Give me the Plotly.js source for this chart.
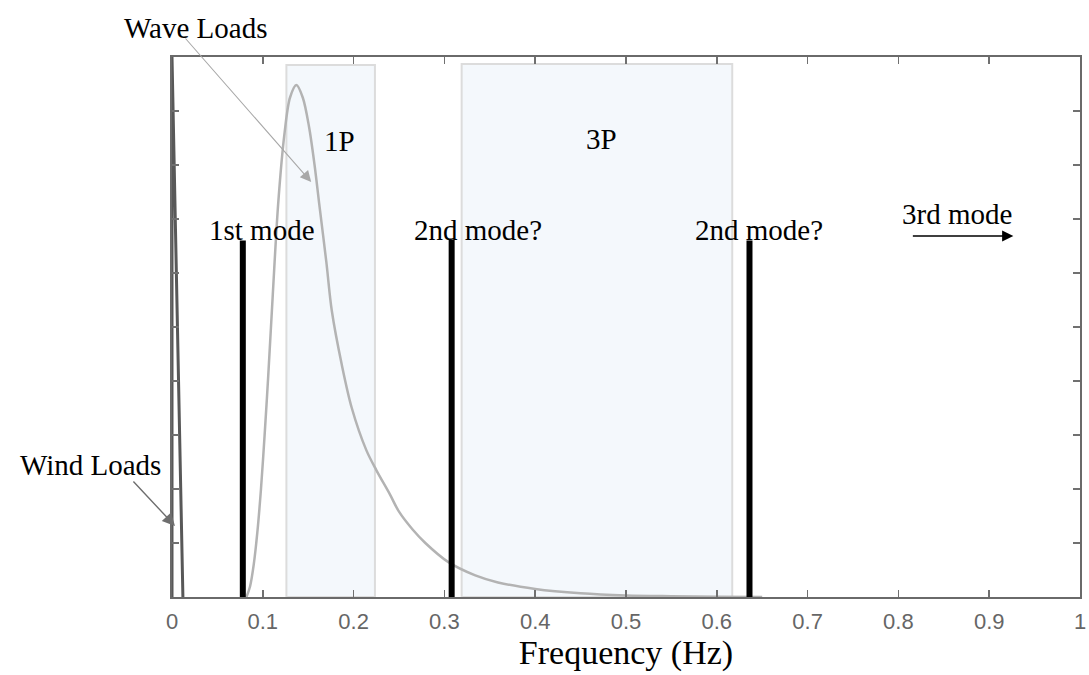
<!DOCTYPE html>
<html>
<head>
<meta charset="utf-8">
<script src="https://cdn.plot.ly/plotly-3.0.1.min.js"></script>
<style>html,body{margin:0;padding:0;background:#fff;}#chart{width:1089px;height:675px;}</style>
</head>
<body>
<div id="chart"></div>
<script>
// Wave load spectrum
var waveFreq = [0.082, 0.086, 0.090, 0.094, 0.098, 0.102, 0.106, 0.111, 0.117, 0.124, 0.130, 0.137, 0.144, 0.151, 0.157, 0.162, 0.170, 0.176, 0.187, 0.198, 0.214, 0.225, 0.240, 0.250, 0.265, 0.279, 0.304, 0.334, 0.359, 0.400, 0.450, 0.500, 0.550, 0.600, 0.650];
var waveAmp  = [0.000, 0.020, 0.060, 0.120, 0.200, 0.300, 0.410, 0.560, 0.730, 0.860, 0.925, 0.948, 0.925, 0.870, 0.800, 0.730, 0.620, 0.530, 0.430, 0.350, 0.272, 0.235, 0.190, 0.158, 0.125, 0.100, 0.065, 0.040, 0.027, 0.015, 0.007, 0.003, 0.0015, 0.0005, 0.000];

// Wind load spike
var windFreq = [0.000, 0.000, 0.012];
var windAmp  = [0.000, 1.000, 0.000];

// Natural modes
var modeFreq   = [0.078, 0.308, 0.636];
var modeHeight = [0.660, 0.662, 0.660];
var modeLabels = ['1st mode', '2nd mode?', '2nd mode?'];

// Excitation bands
var bandNames = ['1P', '3P'];
var bandStart = [0.126, 0.319];
var bandEnd   = [0.2235, 0.617];
var bandTop   = [0.985, 0.987];

var xTickVals = [0, 0.1, 0.2, 0.3, 0.4, 0.5, 0.6, 0.7, 0.8, 0.9, 1];
var xTickText = ['0', '0.1', '0.2', '0.3', '0.4', '0.5', '0.6', '0.7', '0.8', '0.9', '1'];

var traces = [];
traces.push({x: waveFreq, y: waveAmp, mode: 'lines', line: {color: '#b3b3b3', width: 2.5, shape: 'spline', smoothing: 0.9}, hoverinfo: 'skip', showlegend: false});
traces.push({x: windFreq, y: windAmp, mode: 'lines', line: {color: '#585858', width: 3}, hoverinfo: 'skip', showlegend: false});
modeFreq.forEach(function (f, i) {
  traces.push({x: [f, f], y: [0, modeHeight[i]], mode: 'lines', line: {color: '#000', width: 6}, hoverinfo: 'skip', showlegend: false});
});

var shapes = bandStart.map(function (s, i) {
  return {type: 'rect', xref: 'x', yref: 'y', x0: s, x1: bandEnd[i], y0: 0, y1: bandTop[i],
    fillcolor: '#f4f8fc', line: {color: '#dcdcdc', width: 2}, layer: 'below'};
});

var serif = 'Liberation Serif, Times New Roman, serif';
var txt = function (t, x, y, size) {
  return {text: t, xref: 'paper', yref: 'paper', x: x, y: y, xanchor: 'center', yanchor: 'middle',
    showarrow: false, font: {family: serif, size: size || 29, color: '#000'}};
};
var annotations = [
  txt('Wave Loads', 0.026, 1.054),
  txt('Wind Loads', -0.0898, 0.244),
  txt(bandNames[0], 0.184, 0.844),
  txt(bandNames[1], 0.473, 0.848),
  txt(modeLabels[0], 0.0986, 0.680),
  txt(modeLabels[1], 0.337, 0.680),
  txt(modeLabels[2], 0.647, 0.680),
  txt('3rd mode', 0.865, 0.709),
  {text: '', xref: 'paper', yref: 'paper', x: 0.1533, y: 0.7685, ax: -127, ay: -145, showarrow: true,
    arrowhead: 2, arrowsize: 2, arrowwidth: 1.1, arrowcolor: '#a8a8a8', standoff: 0, startstandoff: 0},
  {text: '', xref: 'paper', yref: 'paper', x: 0.0033, y: 0.1315, ax: -43, ay: -46, showarrow: true,
    arrowhead: 2, arrowsize: 1.8, arrowwidth: 1.4, arrowcolor: '#6e6e6e', standoff: 0, startstandoff: 0},
  {text: '', xref: 'paper', yref: 'paper', x: 0.9266, y: 0.6685, ax: -102, ay: 0, showarrow: true,
    arrowhead: 2, arrowsize: 1.4, arrowwidth: 1.6, arrowcolor: '#000', standoff: 0, startstandoff: 0}
];

var layout = {
  width: 1089, height: 675,
  margin: {l: 172, r: 9, t: 57, b: 78},
  paper_bgcolor: '#fff', plot_bgcolor: '#fff',
  showlegend: false,
  xaxis: {
    range: [0, 1], tickmode: 'array', tickvals: xTickVals, ticktext: xTickText,
    ticks: 'inside', ticklen: 7, tickwidth: 1.5, tickcolor: '#707070',
    showline: true, linecolor: '#6a6a6a', linewidth: 2, mirror: 'ticks',
    showgrid: false, zeroline: false,
    tickfont: {family: 'Liberation Sans, Arial, sans-serif', size: 22, color: '#666666'},
    ticklabelstandoff: 4, ticklabeloverflow: 'allow',
    title: {text: 'Frequency (Hz)', font: {family: serif, size: 34, color: '#000'}, standoff: 4}
  },
  yaxis: {
    range: [0, 1], dtick: 0.1, tick0: 0, showticklabels: false,
    ticks: 'inside', ticklen: 7, tickwidth: 1.5, tickcolor: '#707070',
    showline: true, linecolor: '#6a6a6a', linewidth: 2, mirror: 'ticks',
    showgrid: false, zeroline: false
  },
  shapes: shapes,
  annotations: annotations
};

Plotly.newPlot('chart', traces, layout, {staticPlot: true, displayModeBar: false});
</script>
</body>
</html>
